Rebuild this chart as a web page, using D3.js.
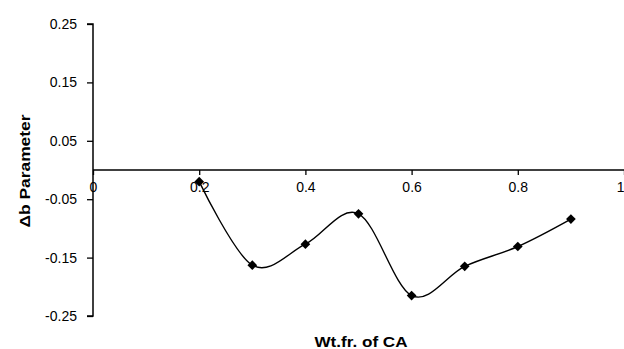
<!DOCTYPE html>
<html><head><meta charset="utf-8">
<script src="https://cdn.jsdelivr.net/npm/d3@7"></script>
<style>body{margin:0;background:#fff}svg{display:block}text{font-family:Arial,"Liberation Sans",sans-serif;fill:#000}</style>
</head><body>
<script>
const xValues = [0.2, 0.3, 0.4, 0.5, 0.6, 0.7, 0.8, 0.9];
const deltaB = [-0.020, -0.163, -0.127, -0.075, -0.215, -0.165, -0.131, -0.084];
const xTicks = [0, 0.2, 0.4, 0.6, 0.8, 1];
const yTicks = [0.25, 0.15, 0.05, -0.05, -0.15, -0.25];
const xTitle = "Wt.fr. of CA";
const yTitle = "Δb  Parameter";

const W = 624, H = 349;
const svg = d3.select("body").append("svg").attr("width", W).attr("height", H);
const x = d3.scaleLinear().domain([0, 1]).range([93, 624]);
const y = d3.scaleLinear().domain([-0.25, 0.25]).range([316, 24]);
const fmtY = d3.formatLocale({decimal: ".", thousands: ",", grouping: [3], currency: ["", ""], minus: "-"}).format(".2f");

// y axis
const yAx = svg.append("g").attr("transform", `translate(${x(0)},0)`)
  .call(d3.axisLeft(y).tickValues(yTicks).tickSize(6).tickPadding(10).tickFormat(fmtY));
yAx.select(".domain").attr("stroke-width", 1.5).attr("d", `M-6,${y(0.25)}H0V${y(-0.25)}H-6`);
yAx.selectAll(".tick line").attr("stroke-width", 1.3);
yAx.selectAll("text").attr("font-size", 14).style("font-family", "Arial, 'Liberation Sans', sans-serif");

// x axis at y=0
const xAx = svg.append("g").attr("transform", `translate(0,${y(0)})`)
  .call(d3.axisBottom(x).tickValues(xTicks).tickSize(5).tickPadding(7).tickFormat(d => d === 0 ? "0" : d === 1 ? "1" : d3.format(".1f")(d)));
xAx.select(".domain").attr("stroke-width", 1.5).attr("d", `M${x(0)},0H${x(1)}`);
xAx.selectAll(".tick line").attr("stroke-width", 1.3);
xAx.selectAll("text").attr("font-size", 14).style("font-family", "Arial, 'Liberation Sans', sans-serif");
xAx.selectAll(".tick").filter(d => d === 1).select("text").attr("text-anchor", "end").attr("x", 0);

// line
const pts = xValues.map((v, i) => [v, deltaB[i]]);
svg.append("path").datum(pts)
  .attr("fill", "none").attr("stroke", "#000").attr("stroke-width", 1.4)
  .attr("d", d3.line().x(d => x(d[0])).y(d => y(d[1])).curve(d3.curveCardinal.tension(0)));

svg.selectAll(".mk").data(pts).enter().append("path")
  .attr("transform", d => `translate(${x(d[0])},${y(d[1])})`)
  .attr("d", d3.symbol().type(d3.symbolDiamond2).size(60))
  .attr("fill", "#000");

// titles
svg.append("text").attr("x", 361).attr("y", 347).attr("text-anchor", "middle")
  .attr("font-size", 14).attr("font-weight", "bold")
  .attr("textLength", 93).attr("lengthAdjust", "spacingAndGlyphs").text(xTitle);
svg.append("text").attr("transform", "translate(30,171) rotate(-90)").attr("text-anchor", "middle")
  .attr("font-size", 14).attr("font-weight", "bold")
  .attr("textLength", 113).attr("lengthAdjust", "spacingAndGlyphs").text(yTitle);
</script>
</body></html>
